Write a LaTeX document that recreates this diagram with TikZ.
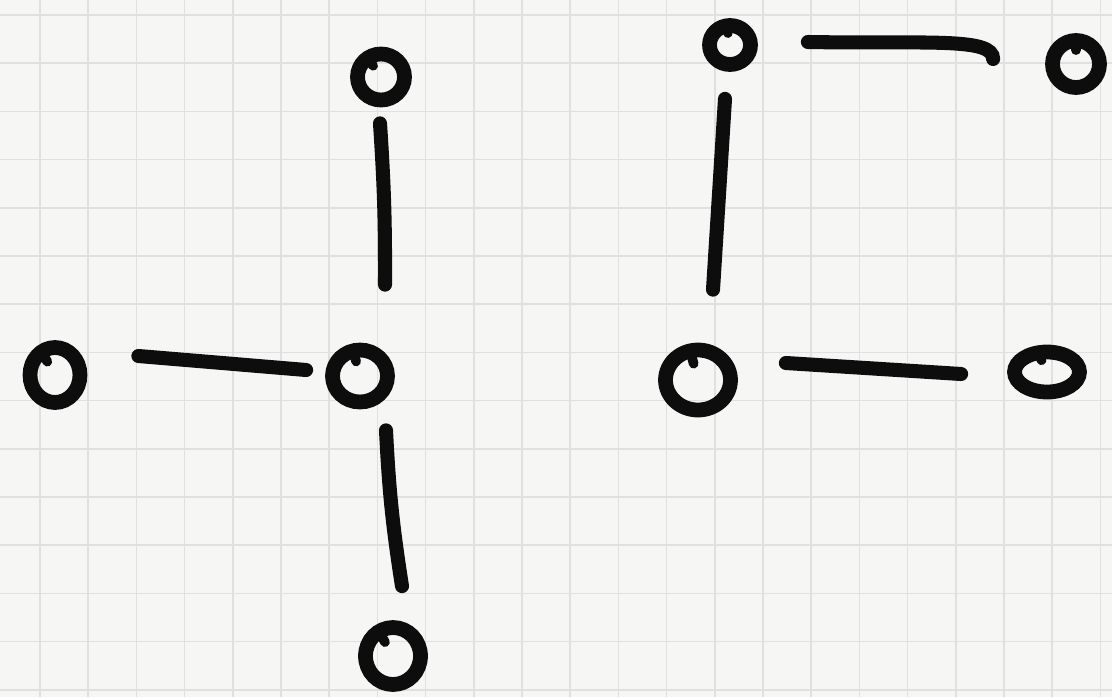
\documentclass[tikz,border=0pt]{standalone}
\usetikzlibrary{shapes.geometric,calc}

\definecolor{paper}{HTML}{F6F6F5}
\definecolor{gridgrey}{HTML}{E0E0E0}
\definecolor{ink}{HTML}{0D0D0D}

\begin{document}
\begin{tikzpicture}[x=0.02cm, y=-0.02cm,
    vertex/.style={draw=ink, ellipse, line width=8.4pt, inner sep=0pt},
    link/.style={draw=ink, line width=8pt, line cap=round},
    tail/.style={draw=ink, line width=5.5pt, line cap=round},
    gridline/.style={gridgrey, line width=0.9pt}]
    % Squared paper
    \fill[paper] (0,0) rectangle (1112,697);
    \useasboundingbox (0,0) rectangle (1112,697);
    \foreach \gx in {40,88.2,...,1112}
        \draw[gridline] (\gx,0) -- (\gx,697);
    \foreach \gy in {15,63.2,...,697}
        \draw[gridline] (0,\gy) -- (1112,\gy);

    % Left graph: a hub with three neighbours
    \node[vertex, minimum width=0.94cm, minimum height=0.92cm] (ltop) at (381,77) {};
    \node[vertex, minimum width=1.00cm, minimum height=1.10cm] (lleft) at (55,375) {};
    \node[vertex, minimum width=1.10cm, minimum height=1.04cm] (lhub) at (360,376) {};
    \node[vertex, minimum width=1.10cm, minimum height=1.14cm] (lbot) at (393,656) {};

    \draw[link] ([shift={(-1,16)}]ltop.south) to[bend left=2] ([shift={(25,-58)}]lhub.north);
    \draw[link] ([shift={(51,-19)}]lleft.east) -- ([shift={(-19,-6)}]lhub.west);
    \draw[link] ([shift={(26,21)}]lhub.south) to[bend right=3] ([shift={(9,-34)}]lbot.north);

    % Right graph: a path of four vertices
    \node[vertex, minimum width=0.82cm, minimum height=0.78cm] (rtl) at (730,45) {};
    \node[vertex, minimum width=0.94cm, minimum height=0.94cm] (rtr) at (1076,64) {};
    \node[vertex, minimum width=1.30cm, minimum height=1.20cm] (rbl) at (698,380) {};
    \node[vertex, minimum width=1.30cm, minimum height=0.80cm] (rbr) at (1047,372) {};

    \draw[link] ([shift={(50,-3)}]rtl.east)
        .. controls +(120,2) and +(0,-22) .. ([shift={(-52,-5)}]rtr.west);
    \draw[link] ([shift={(-5,27)}]rtl.south) -- ([shift={(15,-53)}]rbl.north);
    \draw[link] ([shift={(48,-17)}]rbl.east) -- ([shift={(-46,2)}]rbr.west);

    % Pen starts on each ring
    \foreach \v/\a in {ltop/125, lleft/120, lhub/105, lbot/120,
                       rtl/100, rtr/90, rbl/105, rbr/115}
        \draw[tail] ($(\v.\a)!0.2!(\v.center)$) -- ($(\v.\a)!0.55!(\v.center)$);
\end{tikzpicture}
\end{document}
